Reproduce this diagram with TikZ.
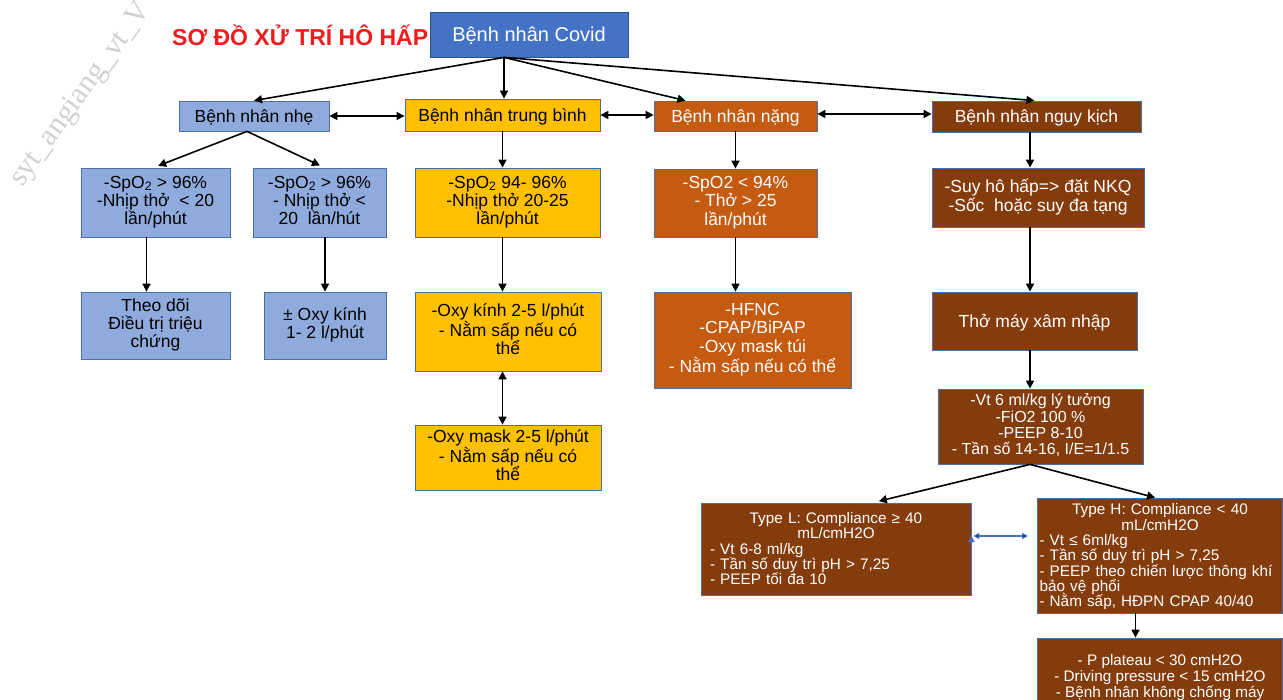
\documentclass[tikz,border=0pt]{standalone}
\usepackage{fontspec}
\setmainfont{Liberation Sans}
\newfontfamily\wmfont{Liberation Serif}
\usepackage{xcolor}
\usepackage{tikz}
\usetikzlibrary{positioning, arrows.meta}

\definecolor{boxline}{HTML}{4A6FA5}
\definecolor{covidblue}{HTML}{4472C4}
\definecolor{mildblue}{HTML}{8FAADC}
\definecolor{modyellow}{HTML}{FFC000}
\definecolor{sevorange}{HTML}{C55A11}
\definecolor{critbrown}{HTML}{843C0C}
\definecolor{titlered}{HTML}{EE1C1C}

% keep line pitch even with stacked Vietnamese accents
\normallineskiplimit=-50pt
\normallineskip=0pt

\begin{document}
\begin{tikzpicture}[x=1pt, y=-1pt,
		box/.style={draw=boxline, line width=0.8pt, rectangle, inner sep=0pt, align=center},
		mild/.style={box, fill=mildblue, text=black},
		moderate/.style={box, fill=modyellow, text=black},
		severe/.style={box, fill=sevorange, text=white},
		critical/.style={box, fill=critbrown, text=white},
		bigtxt/.style={font={\fontsize{17.5}{18.3}\selectfont},
			execute at begin node={\rule{0pt}{17.5pt}}, execute at end node={\rule[-4.5pt]{0pt}{0pt}}},
		midtxt/.style={font={\fontsize{16}{16.3}\selectfont},
			execute at begin node={\rule{0pt}{16pt}}, execute at end node={\rule[-4.5pt]{0pt}{0pt}}},
		smalltxt/.style={font={\fontsize{15.3}{15.3}\selectfont},
			execute at begin node={\rule{0pt}{15pt}}, execute at end node={\rule[-4.5pt]{0pt}{0pt}}},
		arr/.style={-{Triangle[length=8pt,width=8pt]}, line width=1.6pt},
		darr/.style={{Triangle[length=8pt,width=8pt]}-{Triangle[length=8pt,width=8pt]}, line width=1.6pt},
		barr/.style={{Triangle[length=6pt,width=6pt]}-{Triangle[length=6pt,width=6pt]}, line width=1.2pt, draw=covidblue}]
		\clip (0,0) rectangle (1283,700);
		\fill[white] (0,0) rectangle (1283,700);

		% Watermark and title
		\node[rotate=54, anchor=base west, inner sep=0pt, text=black!18, font={\wmfont\fontsize{30}{30}\selectfont}] (watermark) at (22,188) {syt\_angiang\_vt\_V};
		\node[anchor=west, inner sep=0pt, text=titlered, font={\bfseries\fontsize{23}{23}\selectfont}] (title) at (172,35) {SƠ ĐỒ XỬ TRÍ HÔ HẤP};

		% Nodes
		\node[box, fill=covidblue, text=white, draw=covidblue!70!black, minimum width=198, minimum height=45, font={\fontsize{20}{20}\selectfont},
			execute at begin node={\rule{0pt}{19.5pt}}, execute at end node={\rule[-5pt]{0pt}{0pt}}] (covid) at (529,34.5) {Bệnh nhân Covid};

		\node[mild, bigtxt, minimum width=150, minimum height=30] (nhe) at (254,116) {Bệnh nhân nhẹ};
		\node[moderate, bigtxt, minimum width=195, minimum height=32] (tb) at (502.5,115) {Bệnh nhân trung bình};
		\node[severe, bigtxt, minimum width=163, minimum height=30] (nang) at (735.5,116) {Bệnh nhân nặng};
		\node[critical, bigtxt, minimum width=209, minimum height=31] (nk) at (1036.5,116.5) {Bệnh nhân nguy kịch};

		\node[mild, bigtxt, minimum width=149, minimum height=69] (nheA) at (155.5,202.5) {-SpO\textsubscript{2} > 96\%\\-Nhịp thở\ \ < 20\\lần/phút};
		\node[mild, bigtxt, minimum width=133, minimum height=69] (nheB) at (319.5,202.5) {-SpO\textsubscript{2} > 96\%\\- Nhịp thở <\\20\ \ lần/hút};
		\node[moderate, bigtxt, minimum width=185, minimum height=69] (tbA) at (507.5,202.5) {-SpO\textsubscript{2} 94- 96\%\\-Nhịp thở 20-25\\lần/phút};
		\node[severe, bigtxt, minimum width=163, minimum height=68] (nangA) at (735.5,203) {-SpO2 < 94\%\\- Thở > 25\\lần/phút};
		\node[critical, bigtxt, minimum width=212, minimum height=59] (nkA) at (1038,197.5) {-Suy hô hấp=> đặt NKQ\\-Sốc\ \ hoặc suy đa tạng};

		\node[mild, bigtxt, minimum width=149, minimum height=67] (nheC) at (155.5,325.5) {Theo dõi\\Điều trị triệu\\chứng};
		\node[mild, bigtxt, minimum width=122, minimum height=67] (nheD) at (325,325.5) {± Oxy kính\\1- 2 l/phút};
		\node[moderate, bigtxt, minimum width=186, minimum height=79] (tbB) at (508,331.5) {-Oxy kính 2-5 l/phút\\- Nằm sấp nếu có\\thể};
		\node[severe, bigtxt, minimum width=197, minimum height=96] (nangB) at (752.5,340) {-HFNC\\-CPAP/BiPAP\\-Oxy mask túi\\- Nằm sấp nếu có thể};
		\node[critical, bigtxt, minimum width=205, minimum height=58] (nkB) at (1034.5,321) {Thở máy xâm nhập};

		\node[moderate, bigtxt, minimum width=186, minimum height=65] (tbC) at (508,457.5) {-Oxy mask 2-5 l/phút\\- Nằm sấp nếu có\\thể};
		\node[critical, midtxt, minimum width=205, minimum height=75] (nkC) at (1040.5,426.5) {-Vt 6 ml/kg lý tưởng\\-FiO2 100 \%\\-PEEP 8-10\\- Tần số 14-16, I/E=1/1.5};

		\node[critical, smalltxt, align=left, text width=252, inner xsep=9pt, minimum height=92] (typeL) at (836,549) {\makebox[\linewidth]{Type L: Compliance ≥ 40}\\\makebox[\linewidth]{mL/cmH2O}\\- Vt 6-8 ml/kg\\- Tần số duy trì pH > 7,25\\- PEEP tối đa 10};
		\node[critical, smalltxt, align=left, text width=241, inner xsep=2pt, minimum height=115] (typeH) at (1160,555.5) {\makebox[\linewidth]{Type H: Compliance < 40}\\\makebox[\linewidth]{mL/cmH2O}\\- Vt ≤ 6ml/kg\\- Tần số duy trì pH > 7,25\\- PEEP theo chiến lược thông khí\\bảo vệ phổi\\- Nằm sấp, HĐPN CPAP 40/40};
		\node[critical, smalltxt, font={\fontsize{15.3}{16}\selectfont}, minimum width=245, minimum height=80] (plat) at (1160,678) {- P plateau < 30 cmH2O\\- Driving pressure < 15 cmH2O\\- Bệnh nhân không chống máy};

		% Arrows
		\coordinate (hub) at ([xshift=-25pt]covid.south);
		\coordinate (spine) at ([xshift=-6.5pt]nk.south);
		\path[arr] (hub) edge (nhe.north);
		\path[arr] (hub) edge (hub |- tb.north);
		\path[arr] (hub) edge ([xshift=-50pt]nang.north);
		\path[arr] (hub) edge ([xshift=-2pt]nk.north);

		\path[darr] (nhe.east) edge (nhe.east -| tb.west);
		\path[darr] (tb.east) edge (tb.east -| nang.west);
		\path[darr] ([yshift=2pt]nang.east) edge ([yshift=2pt]nang.east -| nk.west);

		% mild branch
		\path[arr] ([xshift=-7pt]nhe.south) edge[shorten >=5pt] ([xshift=-2pt]nheA.north);
		\path[arr] ([xshift=-7pt]nhe.south) edge[shorten >=5pt] ([xshift=5pt]nheB.north);
		\path[arr] ([xshift=-9pt]nheA.south) edge ([xshift=-9pt]nheC.north);
		\path[arr] (nheB.south -| nheD.north) edge (nheD.north);

		% moderate branch
		\path[arr] (tb.south) edge (tbA.north -| tb.south);
		\path[arr] (tbA.south -| tb.south) edge (tbB.north -| tb.south);
		\path[darr] (tbB.south -| tb.south) edge (tbC.north -| tb.south);

		% severe branch
		\path[arr] (nang.south) edge (nangA.north);
		\path[arr] (nangA.south) edge (nangA.south |- nangB.north);

		% critical branch
		\path[arr] (spine) edge (spine |- nkA.north);
		\path[arr] (nkA.south -| spine) edge (nkB.north -| spine);
		\path[arr] (nkB.south -| spine) edge (nkC.north -| spine);
		\path[arr] (nkC.south -| spine) edge[shorten >=6pt] ([xshift=37pt]typeL.north);
		\path[arr] (nkC.south -| spine) edge ([xshift=-5pt]typeH.north);
		\path[barr] ([yshift=13pt]typeL.east) edge[shorten <=2pt, shorten >=9pt] ([yshift=13pt]typeL.east -| typeH.west);
		\path[arr] ([xshift=-24.5pt]typeH.south) edge ([xshift=-24.5pt]typeH.south |- plat.north);
	\end{tikzpicture}
\end{document}
